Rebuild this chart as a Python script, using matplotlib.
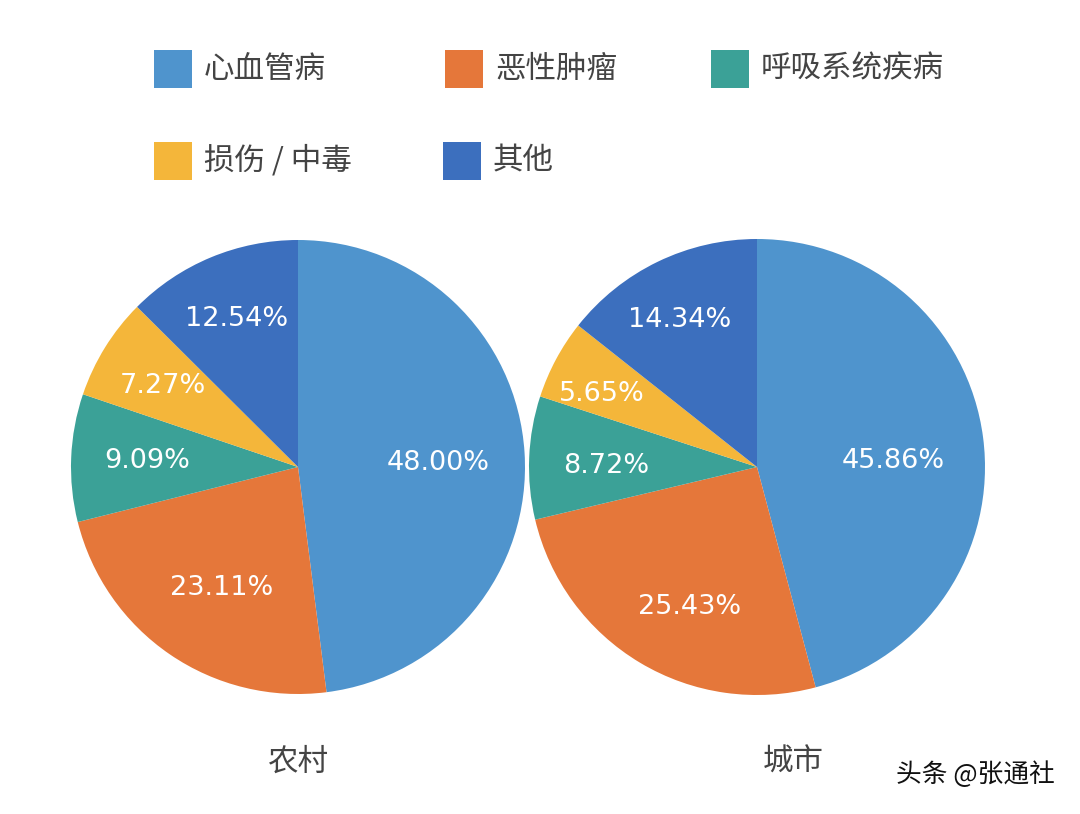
import numpy as np
import matplotlib.pyplot as plt
from matplotlib.patches import Rectangle

plt.rcParams['font.family'] = ['Noto Sans CJK SC', 'DejaVu Sans']

categories = ['心血管病', '恶性肿瘤', '呼吸系统疾病', '损伤 / 中毒', '其他']
rural = [48.00, 23.11, 9.09, 7.27, 12.54]
urban = [45.86, 25.43, 8.72, 5.65, 14.34]
titles = ['农村', '城市']

colors = ['#4F94CD', '#E5773A', '#3BA197', '#F4B63A', '#3C6FBE']

W, H = 1080, 814
fig = plt.figure(figsize=(W / 100, H / 100), dpi=100)
fig.patch.set_facecolor('white')


def px_axes(cx, cy, r):
    return [(cx - r) / W, (H - cy - r) / H, 2 * r / W, 2 * r / H]


def draw_pie(rect, values, dists, nudges):
    ax = fig.add_axes(rect)
    wedges, _ = ax.pie(values, colors=colors, startangle=90, counterclock=False,
                       wedgeprops=dict(linewidth=0))
    for w, v, d, n in zip(wedges, values, dists, nudges):
        ang = np.deg2rad((w.theta1 + w.theta2) / 2 + n)
        ax.text(d * np.cos(ang), d * np.sin(ang), f'{v:.2f}%', color='white',
                fontsize=19.5, family='DejaVu Sans', ha='center', va='center')
    ax.set_xlim(-1, 1)
    ax.set_ylim(-1, 1)
    ax.set_aspect('equal')
    ax.axis('off')
    return ax


draw_pie(px_axes(298, 467, 227), rural, [0.62, 0.63, 0.665, 0.695, 0.705], [-2, 2, 0, 1, 0])
draw_pie(px_axes(757, 467, 228), urban, [0.6, 0.68, 0.66, 0.75, 0.73], [-5, 5, 2, 3, 2])

fig.text(298 / W, 1 - 762 / H, titles[0], fontsize=22, color='#444444', ha='center', va='center')
fig.text(793 / W, 1 - 762 / H, titles[1], fontsize=22, color='#444444', ha='center', va='center')

# legend
leg_pos = [(154, 50), (445, 50), (711, 50), (154, 142), (443, 142)]
sq = 38
for (x, y), c, lab in zip(leg_pos, colors, categories):
    fig.patches.append(Rectangle((x / W, 1 - (y + sq) / H), sq / W, sq / H,
                                 transform=fig.transFigure, facecolor=c, edgecolor='none'))
    fig.text((x + sq + 12) / W, 1 - (y + sq / 2) / H, lab, fontsize=22,
             color='#444444', ha='left', va='center')

fig.text(1055 / W, 1 - 775 / H, '头条 @张通社', fontsize=18.5, color='#111111',
         ha='right', va='center')

fig.savefig('out.png', dpi=100)
